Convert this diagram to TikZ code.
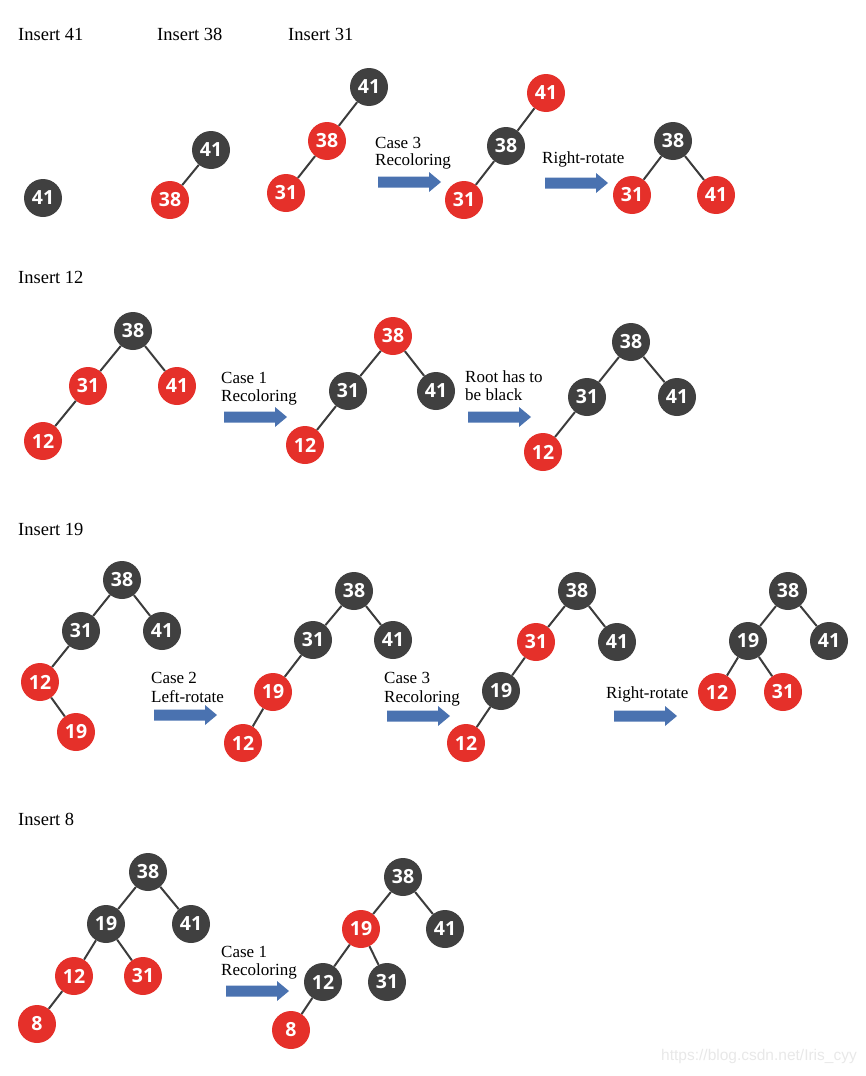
\documentclass[tikz,border=0pt]{standalone}
\usepackage{fontspec}
\setmainfont{Liberation Serif}
\newfontfamily\numfont{Open Sans}
\newfontfamily\wmfontfam{Liberation Sans}
\definecolor{nblack}{HTML}{404040}
\definecolor{nred}{HTML}{E5302A}
\definecolor{arrowblue}{HTML}{4A72B0}
\definecolor{edgegray}{HTML}{3C3C3C}
\newcommand\bluearrow[2]{\fill[arrowblue] (#1,#2) ++(0,-5.5) -- ++(51,0) -- ++(0,-4.5) -- ++(12,10) -- ++(-12,10) -- ++(0,-4.5) -- ++(-51,0) -- cycle;}
\tikzset{
  bn/.style={circle, fill=nblack, minimum size=38, inner sep=0pt, text=white, font=\numfont\bfseries\fontsize{19.5}{19.5}\selectfont},
  rn/.style={bn, fill=nred},
  edge/.style={draw=edgegray, line width=2pt},
  heading/.style={anchor=base west, inner sep=0pt, font=\fontsize{18.5}{20}\selectfont},
  lbl/.style={anchor=base west, inner sep=0pt, font=\fontsize{17}{18}\selectfont},
}
\begin{document}
\begin{tikzpicture}[x=1pt,y=-1pt]
\useasboundingbox (0,0) rectangle (866,1076);
% headings
\node[heading] (h41) at (18,40) {Insert 41};
\node[heading] (h38) at (157,40) {Insert 38};
\node[heading] (h31) at (288,40) {Insert 31};
\node[heading] (h12) at (18,283) {Insert 12};
\node[heading] (h19) at (18,535) {Insert 19};
\node[heading] (h8) at (18,825) {Insert 8};
% ---------- Row 1 ----------
\node[bn] (a1) at (43,198) {41};
\node[bn] (b1) at (211,150) {41};
\node[rn] (b2) at (170,200) {38};
\draw[edge] (b1) -- (b2);
\node[bn] (c1) at (369,87) {41};
\node[rn] (c2) at (327,141) {38};
\node[rn] (c3) at (286,193) {31};
\draw[edge] (c1) -- (c2) (c2) -- (c3);
\node[lbl] (l1a) at (375,148) {Case 3};
\node[lbl] (l1b) at (375,165) {Recoloring};
\bluearrow{378}{182}
\node[rn] (d1) at (546,93) {41};
\node[bn] (d2) at (506,146) {38};
\node[rn] (d3) at (464,200) {31};
\draw[edge] (d1) -- (d2) (d2) -- (d3);
\node[lbl] (l2a) at (542,163) {Right-rotate};
\bluearrow{545}{183}
\node[bn] (e1) at (673,141) {38};
\node[rn] (e2) at (632,195) {31};
\node[rn] (e3) at (716,195) {41};
\draw[edge] (e1) -- (e2) (e1) -- (e3);
% ---------- Row 2 ----------
\node[bn] (f1) at (133,331) {38};
\node[rn] (f2) at (88,386) {31};
\node[rn] (f3) at (177,386) {41};
\node[rn] (f4) at (43,441) {12};
\draw[edge] (f1) -- (f2) (f1) -- (f3) (f2) -- (f4);
\node[lbl] (l3a) at (221,383) {Case 1};
\node[lbl] (l3b) at (221,401) {Recoloring};
\bluearrow{224}{417}
\node[rn] (g1) at (393,336) {38};
\node[bn] (g2) at (348,391) {31};
\node[bn] (g3) at (436,391) {41};
\node[rn] (g4) at (305,445) {12};
\draw[edge] (g1) -- (g2) (g1) -- (g3) (g2) -- (g4);
\node[lbl] (l4a) at (465,382) {Root has to};
\node[lbl] (l4b) at (465,400) {be black};
\bluearrow{468}{417}
\node[bn] (k1) at (631,342) {38};
\node[bn] (k2) at (587,397) {31};
\node[bn] (k3) at (677,397) {41};
\node[rn] (k4) at (543,452) {12};
\draw[edge] (k1) -- (k2) (k1) -- (k3) (k2) -- (k4);
% ---------- Row 3 ----------
\node[bn] (i1) at (122,580) {38};
\node[bn] (i2) at (81,631) {31};
\node[bn] (i3) at (162,631) {41};
\node[rn] (i4) at (40,682) {12};
\node[rn] (i5) at (76,732) {19};
\draw[edge] (i1) -- (i2) (i1) -- (i3) (i2) -- (i4) (i4) -- (i5);
\node[lbl] (l5a) at (151,683) {Case 2};
\node[lbl] (l5b) at (151,702) {Left-rotate};
\bluearrow{154}{715}
\node[bn] (j1) at (354,591) {38};
\node[bn] (j2) at (313,640) {31};
\node[bn] (j3) at (393,640) {41};
\node[rn] (j4) at (273,692) {19};
\node[rn] (j5) at (243,743) {12};
\draw[edge] (j1) -- (j2) (j1) -- (j3) (j2) -- (j4) (j4) -- (j5);
\node[lbl] (l6a) at (384,683) {Case 3};
\node[lbl] (l6b) at (384,702) {Recoloring};
\bluearrow{387}{716}
\node[bn] (p1) at (577,591) {38};
\node[rn] (p2) at (536,642) {31};
\node[bn] (p3) at (617,642) {41};
\node[bn] (p4) at (501,691) {19};
\node[rn] (p5) at (466,743) {12};
\draw[edge] (p1) -- (p2) (p1) -- (p3) (p2) -- (p4) (p4) -- (p5);
\node[lbl] (l7a) at (606,698) {Right-rotate};
\bluearrow{614}{716}
\node[bn] (q1) at (788,591) {38};
\node[bn] (q2) at (748,641) {19};
\node[bn] (q3) at (829,641) {41};
\node[rn] (q4) at (717,692) {12};
\node[rn] (q5) at (783,692) {31};
\draw[edge] (q1) -- (q2) (q1) -- (q3) (q2) -- (q4) (q2) -- (q5);
% ---------- Row 4 ----------
\node[bn] (m1) at (148,872) {38};
\node[bn] (m2) at (106,924) {19};
\node[bn] (m3) at (191,924) {41};
\node[rn] (m4) at (74,976) {12};
\node[rn] (m5) at (143,976) {31};
\node[rn] (m6) at (37,1024) {8};
\draw[edge] (m1) -- (m2) (m1) -- (m3) (m2) -- (m4) (m2) -- (m5) (m4) -- (m6);
\node[lbl] (l8a) at (221,957) {Case 1};
\node[lbl] (l8b) at (221,975) {Recoloring};
\bluearrow{226}{991}
\node[bn] (n1) at (403,877) {38};
\node[rn] (n2) at (361,929) {19};
\node[bn] (n3) at (445,929) {41};
\node[bn] (n4) at (323,982) {12};
\node[bn] (n5) at (387,982) {31};
\node[rn] (n6) at (291,1030) {8};
\draw[edge] (n1) -- (n2) (n1) -- (n3) (n2) -- (n4) (n2) -- (n5) (n4) -- (n6);
% watermark
\node[anchor=base east, inner sep=0pt, text=black!9, font=\wmfontfam\fontsize{15.5}{15.5}\selectfont] (wm) at (857,1060) {https://blog.csdn.net/Iris\_cyy};
\end{tikzpicture}
\end{document}
